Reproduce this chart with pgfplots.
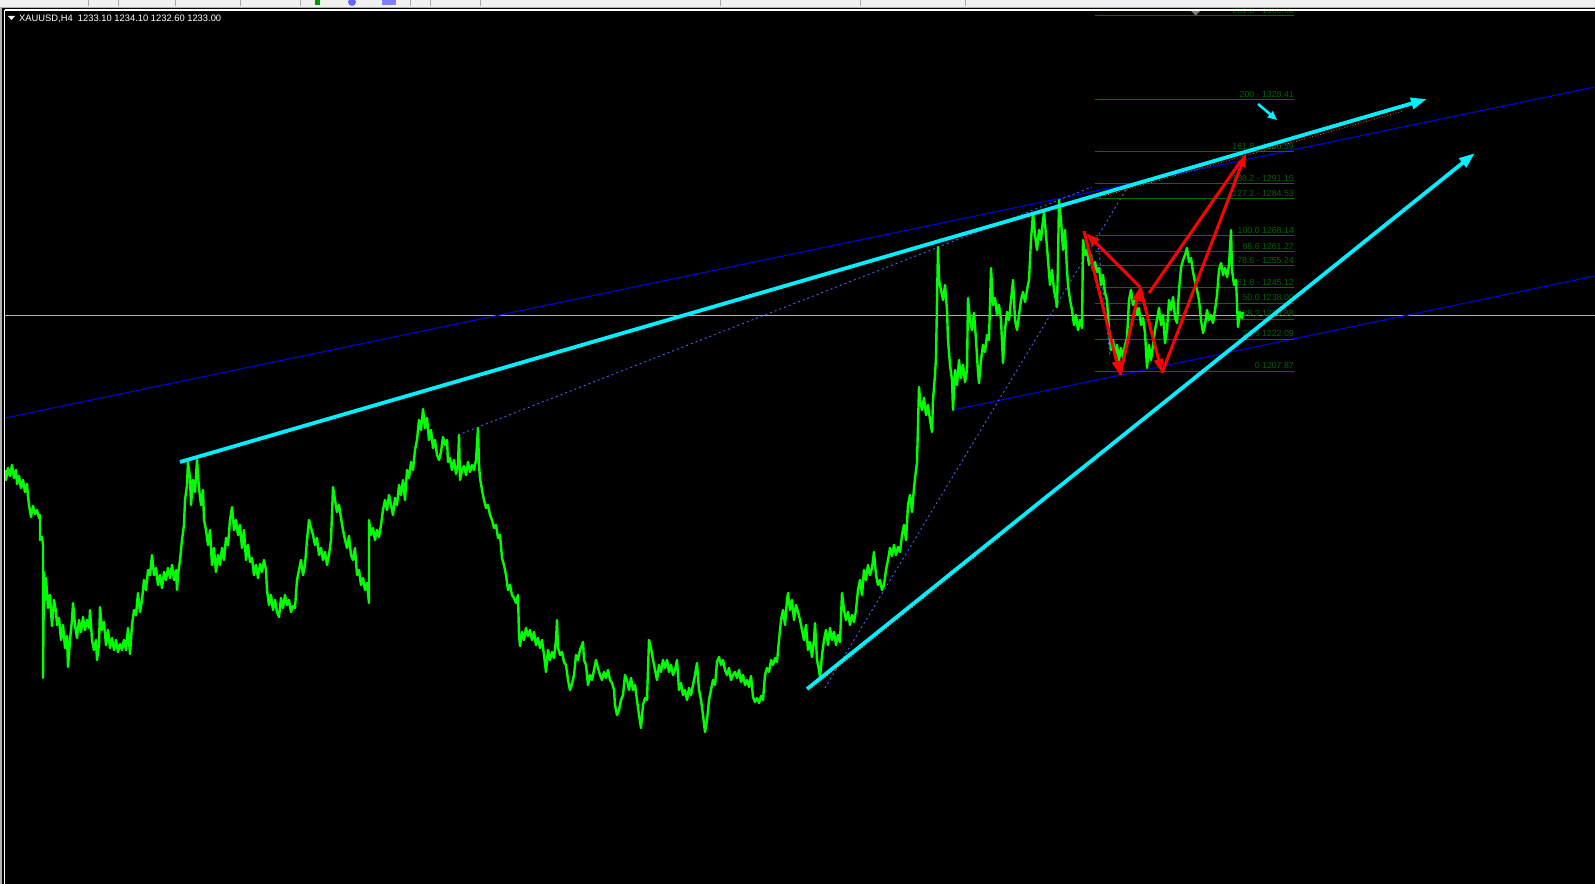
\documentclass[border=0pt]{standalone}
\usepackage{fontspec}
\setmainfont{Liberation Sans}
\usepackage{pgfplots}
\pgfplotsset{compat=1.18}
\usetikzlibrary{arrows.meta}
\definecolor{bar}{RGB}{0,255,0}
\definecolor{cy}{RGB}{0,240,255}
\definecolor{chan}{RGB}{0,0,235}
\definecolor{dotb}{RGB}{70,100,255}
\definecolor{fib}{RGB}{0,110,0}
\definecolor{fibt}{RGB}{0,100,0}
\definecolor{bid}{RGB}{175,175,175}
\definecolor{tb}{RGB}{240,240,240}
\definecolor{arr}{RGB}{255,0,0}
\definecolor{org}{RGB}{255,110,0}
\tikzset{fl/.style={anchor=base east, inner sep=0pt, text=fibt, font=\fontsize{8.8}{10}\selectfont}}
\begin{document}
\begin{tikzpicture}
\begin{axis}[scale only axis, width=1595bp, height=884bp,
  xmin=0, xmax=1595, ymin=0, ymax=884, y dir=reverse,
  hide axis, clip=true]
% background
\fill[black] (0,0) rectangle (1595,884);
\fill[bid] (0,0) rectangle (2,884);
% bid line
\addplot[bid, line width=1bp] coordinates {(5,315) (1595,315)};
% channel lines
\addplot[chan, line width=1bp] coordinates {(5,418) (1595,87)};
\addplot[chan, line width=1bp] coordinates {(953,410) (1595,276)};
% dotted lines
\addplot[dotb, line width=0.9bp, dash pattern=on 2bp off 3bp] coordinates {(458,435) (1092,187)};
\addplot[dotb, line width=0.9bp, dash pattern=on 2bp off 3bp] coordinates {(825,688) (1130,183)};
\addplot[dotb, line width=0.9bp, dash pattern=on 2bp off 3bp] coordinates {(1098,243) (1110,357)};
% fib levels
\pgfplotsinvokeforeach{16,100,152,184,199,236,252,266,288,303,319,339,371}{
  \addplot[fib, line width=1bp] coordinates {(1095,#1) (1294,#1)};
}
% price series
\addplot[bar, line width=2.4bp, line join=round] coordinates {
(5,470) (6,480) (8,468) (10,476) (12,465) (14,478) (16,470) (17,484) (19,476) (21,488) (23,480) (25,492) (27,484) (28,496) (29,505) (31,517) (33,506) (35,514) (37,510) (39,518) (40,515) (40,540) (42,537) (43,545) (43,678) (44,572) (45,600) (46,578) (48,608) (50,595) (52,626) (54,600) (56,612) (57,625) (59,618) (61,640) (63,625) (65,648) (67,636) (68,667) (70,640) (72,620) (73,603) (75,625) (77,638) (79,620) (81,632) (83,617) (85,630) (87,620) (89,628) (90,610) (92,640) (94,650) (96,640) (97,660) (99,645) (100,607) (102,630) (104,622) (106,645) (108,630) (110,648) (112,638) (114,650) (116,640) (118,652) (120,644) (122,650) (124,640) (126,650) (128,628) (130,654) (132,625) (134,610) (136,615) (138,593) (140,612) (142,600) (144,580) (146,590) (148,570) (150,575) (152,555) (154,575) (156,568) (158,585) (160,575) (162,588) (164,572) (166,580) (168,568) (170,578) (172,565) (174,580) (176,570) (177,590) (178,575) (180,560) (182,540) (184,525) (185,500) (187,485) (188,462) (190,478) (191,505) (193,480) (195,492) (197,460) (199,488) (200,497)
(201,505) (203,490) (204,520) (206,530) (208,545) (210,530) (212,565) (214,548) (216,572) (218,555) (220,565) (222,548) (224,560) (226,538) (228,545) (230,520) (232,507) (234,530) (236,520) (238,535) (240,525) (242,548) (244,530) (246,560) (248,545) (250,562) (252,558) (254,575) (256,565) (258,578) (260,564) (262,572) (264,560) (266,570) (267,590) (269,605) (271,595) (273,610) (275,600) (277,612) (279,617) (281,598) (283,608) (285,595) (287,605) (289,600) (291,612) (293,606) (295,608) (297,580) (299,570) (301,560) (303,575) (305,565) (307,540) (309,520) (311,528) (313,535) (315,545) (317,538) (319,555) (321,548) (323,560) (325,552) (327,565) (329,555) (331,540) (333,487) (335,500) (337,512) (339,505) (341,518) (343,530) (345,540) (347,548) (349,536) (351,555) (353,560) (355,548) (357,575) (359,570) (361,585) (363,578) (365,590) (367,583) (369,603) (369,520) (371,535) (373,528) (375,540) (377,530) (379,537) (381,525) (383,510) (385,500) (387,510) (389,495) (391,505) (393,515) (395,498) (397,505) (399,485)
(401,495) (403,480) (405,500) (407,470) (409,478) (411,462) (413,470) (415,450) (417,440) (419,420) (421,430) (423,409) (425,428) (427,418) (429,440) (431,430) (433,448) (435,440) (437,455) (439,460) (441,452) (443,437) (445,445) (447,440) (448,462) (450,458) (452,470) (454,460) (456,474) (458,465) (459,435) (460,480) (462,470) (464,466) (466,475) (468,462) (470,472) (472,465) (474,470) (476,460) (478,428) (479,465) (480,478) (482,490) (484,500) (486,508) (488,505) (490,515) (492,520) (494,528) (496,525) (498,538) (500,535) (502,558) (504,565) (506,575) (508,590) (510,585) (512,595) (514,598) (516,603) (518,595) (519,635) (520,646) (522,632) (524,640) (526,628) (528,636) (530,630) (532,640) (534,632) (536,645) (538,638) (540,648) (542,640) (544,655) (546,672) (548,650) (550,660) (552,652) (554,658) (556,640) (557,620) (558,648) (560,655) (562,652) (564,662) (566,665) (568,680) (570,690) (572,684) (574,675) (576,655) (578,660) (580,650) (582,645) (583,642) (584,660) (586,665) (588,685) (590,675) (592,680) (594,670) (596,660) (598,668) (600,675) (602,680) (604,672) (606,678) (608,670) (610,680) (612,683) (614,690) (615,705) (617,715) (619,710) (621,700) (623,695) (625,675) (627,680) (629,690) (631,678) (633,690) (635,685) (637,700) (639,715) (641,728) (643,705) (645,698) (647,700) (649,640) (651,648) (653,660) (655,670) (657,680) (659,665) (661,672) (663,660) (665,668) (667,660) (669,672) (671,665) (673,675) (675,670) (677,660) (679,690) (681,683) (683,695) (685,690) (687,700) (689,688) (691,695) (693,685) (695,675) (697,663) (699,690) (701,700) (703,715) (705,732) (707,720) (709,700) (711,690) (713,680) (715,685) (717,662) (719,657) (721,665) (723,660) (725,670) (727,675) (729,668) (731,680) (733,675) (735,672) (737,678) (739,670) (741,682) (743,675) (745,685) (747,680) (749,687) (751,676) (753,697) (755,702) (757,698) (759,703) (761,696) (763,700) (765,675) (767,668) (769,672) (771,660) (773,665) (775,658) (777,662) (779,640) (781,620) (783,610) (785,625) (787,600) (788,593) (790,610) (792,600) (794,620) (796,605) (798,612) (800,620)
(802,630) (804,640) (806,625) (808,650) (810,642) (812,657) (814,640) (815,623) (817,660) (819,670) (820,677) (822,655) (824,640) (826,630) (828,645) (830,628) (832,640) (834,632) (836,645) (838,635) (840,642) (842,593) (844,610) (846,620) (848,612) (850,625) (852,615) (854,622) (856,610) (858,590) (860,580) (862,595) (864,570) (866,580) (868,565) (870,575) (872,568) (874,552) (876,575) (878,585) (880,580) (882,590) (884,585) (886,570) (888,560) (890,548) (892,556) (894,545) (896,555) (898,547) (900,552) (902,535) (904,525) (906,540) (908,505) (910,495) (912,512) (914,488) (916,470) (917,463) (919,387) (920,400) (922,410) (924,398) (926,415) (928,405) (930,420) (932,432) (933,400) (935,375) (936,357) (938,247) (939,280) (941,290) (943,300) (945,285) (947,310) (948,340) (950,365) (952,380) (953,410) (955,370) (957,385) (959,360) (961,378) (963,365) (965,382) (967,370) (968,298) (970,320) (972,330) (974,313) (976,340) (978,372) (979,383) (981,360) (983,345) (985,352) (987,335) (989,340) (991,268) (993,305) (995,298) (997,315) (999,305) (1001,320) (1003,363) (1005,330) (1007,312) (1009,320) (1011,300) (1013,280) (1015,320) (1017,330) (1019,315) (1021,300) (1023,292) (1025,302) (1027,290) (1029,280) (1031,240) (1033,213) (1035,235) (1037,250) (1039,230) (1041,240) (1043,220) (1044,213) (1046,235) (1048,260) (1050,285) (1052,270) (1054,290) (1056,300) (1057,307) (1058,260) (1059,200) (1061,220) (1063,250) (1065,230) (1067,270) (1068,285) (1070,300) (1072,310) (1074,325) (1076,315) (1078,330) (1080,320)
(1082,328) (1083,240) (1085,255) (1087,250) (1089,265) (1091,255) (1093,270) (1095,262) (1097,272) (1099,268) (1101,285) (1103,275) (1105,293) (1107,300) (1109,330) (1111,350) (1113,340) (1115,355) (1117,345) (1119,360) (1121,348) (1123,358) (1125,345) (1127,338) (1129,300) (1131,290) (1133,305) (1135,298) (1137,315) (1139,308) (1141,325) (1143,318) (1145,333) (1147,368) (1149,345) (1151,360) (1153,345) (1155,330) (1157,320) (1159,308) (1161,325) (1163,315) (1165,343) (1167,330) (1169,300) (1171,310) (1173,297) (1175,318) (1177,323) (1179,290) (1181,268) (1183,260) (1185,255) (1187,248) (1189,262) (1191,258) (1193,272) (1195,282) (1197,290) (1199,300) (1201,320) (1203,333) (1205,325) (1207,310) (1209,320) (1211,315) (1213,323) (1215,310) (1217,295) (1219,270) (1221,263) (1223,275) (1225,268) (1227,277) (1229,265) (1231,230) (1232,270) (1234,285) (1236,280) (1238,327) (1240,312) (1242,318) (1243,312)
};
% fib labels
\node[fl] at (axis cs:1294,13.5) {261.8 - 1365.66};
\node[fl] at (axis cs:1294,97.5) {200 - 1328.41};
\node[fl] at (axis cs:1294,149.5) {161.8 - 1305.39};
\node[fl] at (axis cs:1294,181.5) {138.2 - 1291.16};
\node[fl] at (axis cs:1294,196.5) {127.2 - 1284.53};
\node[fl] at (axis cs:1294,233.5) {100.0 1268.14};
\node[fl] at (axis cs:1294,249.5) {88.6 1261.27};
\node[fl] at (axis cs:1294,263.5) {78.6 - 1255.24};
\node[fl] at (axis cs:1294,285.5) {61.8 - 1245.12};
\node[fl] at (axis cs:1294,300.5) {50.0 1238.00};
\node[fl] at (axis cs:1294,316.5) {38.2 1230.88};
\node[fl] at (axis cs:1294,336.5) {23.6 1222.09};
\node[fl] at (axis cs:1294,368.5) {0 1207.87};
% orange traces under cyan lines
\addplot[org, line width=0.8bp, dotted] coordinates {(1100,197) (1403,111)};
\addplot[org, line width=0.8bp, dotted] coordinates {(812,688) (1000,537)};
% cyan trendlines
\addplot[cy, line width=3.8bp, -{Triangle[length=16bp,width=11bp]}] coordinates {(180,462) (1427,99)};
\addplot[cy, line width=3.8bp, -{Triangle[length=16bp,width=11bp]}] coordinates {(807,689) (1475,153)};
\addplot[cy, line width=2.5bp, -{Triangle[length=9bp,width=8bp]}] coordinates {(1258,104) (1277,120)};
% red pattern
\addplot[arr, line width=3bp, -{Triangle[length=14bp,width=9bp]}] coordinates {(1084,231) (1120,375)};
\addplot[arr, line width=3bp, -{Triangle[length=14bp,width=9bp]}] coordinates {(1120,375) (1140,287)};
\addplot[arr, line width=3bp, -{Triangle[length=14bp,width=9bp]}] coordinates {(1140,287) (1086,233)};
\addplot[arr, line width=3bp, -{Triangle[length=14bp,width=9bp]}] coordinates {(1140,287) (1162,373)};
\addplot[arr, line width=3bp, -{Triangle[length=14bp,width=9bp]}] coordinates {(1162,373) (1246,153)};
\addplot[arr, line width=3bp] coordinates {(1149,293) (1240,162)};
% top gray marker
\fill[gray] (1190,10) -- (1201,10) -- (1195.5,15.5) -- cycle;
% toolbar
\fill[tb] (0,0) rectangle (1595,7);
\fill[gray!60] (0,7) rectangle (1595,8.5);
\draw[white, line width=1.2bp] (4.5,10) -- (1595,10);
\draw[white, line width=1.2bp] (4.7,10) -- (4.7,884);
\draw[gray!70, line width=0.8bp] (88,0) -- (88,6);
\draw[gray!70, line width=0.8bp] (118,0) -- (118,6);
\draw[gray!70, line width=0.8bp] (175,0) -- (175,6);
\draw[gray!70, line width=0.8bp] (240,0) -- (240,6);
\draw[gray!70, line width=0.8bp] (300,0) -- (300,6);
\draw[gray!70, line width=0.8bp] (410,0) -- (410,6);
\draw[gray!70, line width=0.8bp] (430,0) -- (430,6);
\draw[gray!70, line width=0.8bp] (480,0) -- (480,6);
\draw[gray!70, line width=0.8bp] (720,0) -- (720,6);
\draw[gray!70, line width=0.8bp] (860,0) -- (860,6);
\draw[gray!70, line width=0.8bp] (965,0) -- (965,6);
\fill[green!60!black] (315,0) rectangle (320,5);
\fill[blue!60] (352,2) circle[radius=4];
\fill[blue!50] (382,0) rectangle (396,5);
% header
\fill[white] (8,16) -- (15,16) -- (11.5,20) -- cycle;
\node[anchor=base west, inner sep=0pt, text=white, font=\fontsize{9.4}{11}\selectfont] at (axis cs:19,22) {XAUUSD,H4\ \ 1233.10 1234.10 1232.60 1233.00};
\end{axis}
\end{tikzpicture}
\end{document}
